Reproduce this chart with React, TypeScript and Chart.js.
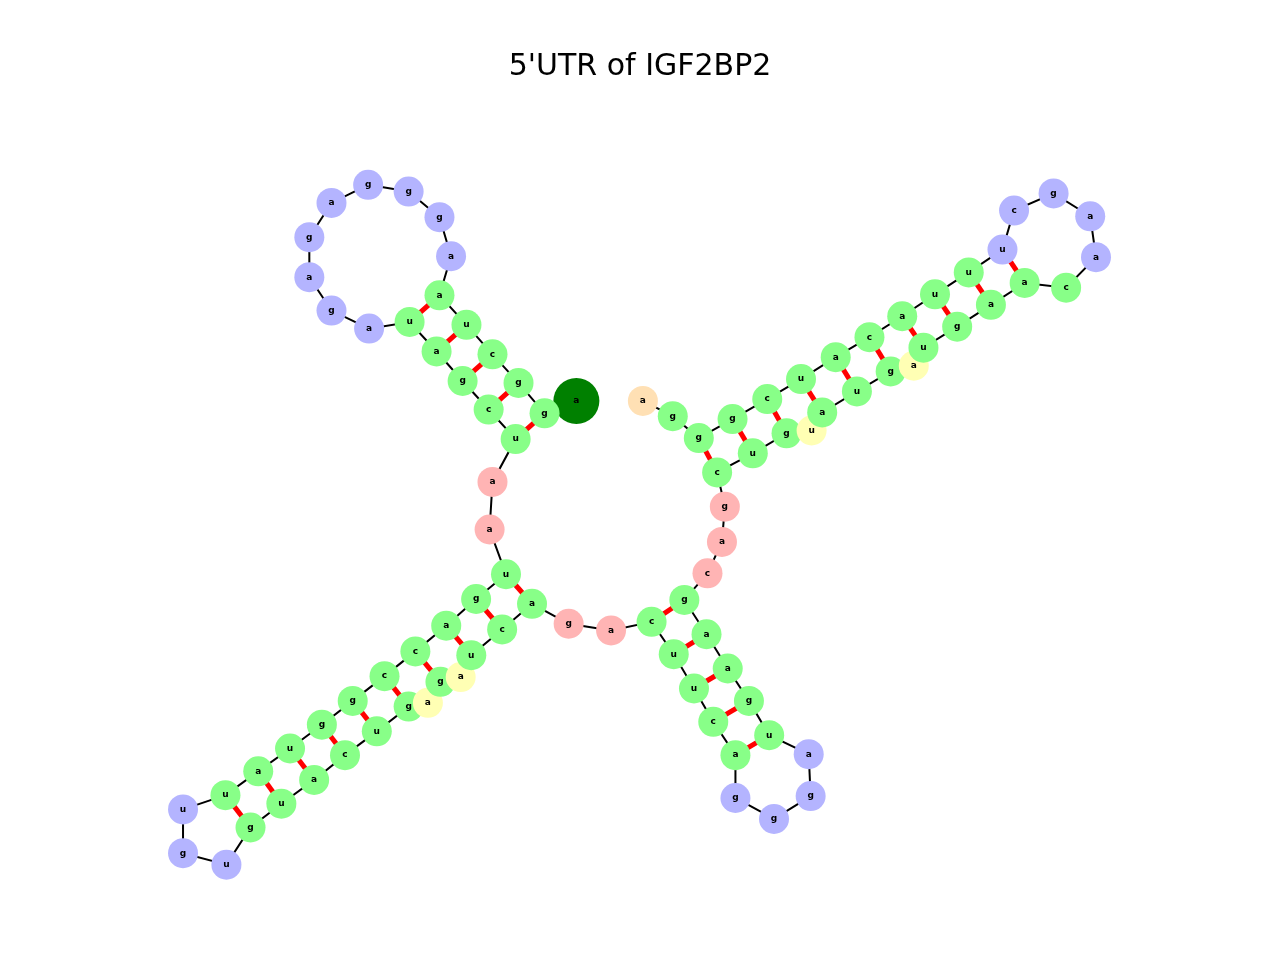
import React, { useEffect, useRef } from 'react';
import Chart from 'chart.js/auto';

// sequence in 5' -> 3' order, with layout coordinates
const bases = 'agUcuaaggggagagauagcuaauggaccgguauuugucuaucggauguagcuucgcaucuucgcgggcauuauaacacgucccuaaagcucaggga'.slice(0, 0);
const seq = [
  'a', 'g', 'g', 'c', 'u', 'a', 'a', 'g', 'g', 'g', 'a', 'g', 'a', 'g', 'a', 'u', 'a', 'g', 'c', 'u',
  'a', 'a', 'u', 'g', 'a', 'c', 'c', 'g', 'g', 'u', 'a', 'u', 'u', 'g', 'u', 'g', 'u', 'a', 'c', 'u',
  'g', 'a', 'g', 'a', 'u', 'c', 'a', 'g', 'a', 'c', 'u', 'u', 'c', 'a', 'g', 'g', 'g', 'a', 'u', 'g',
  'a', 'a', 'g', 'c', 'a', 'g', 'c', 'u', 'g', 'u', 'a', 'u', 'g', 'a', 'u', 'g', 'a', 'a', 'c', 'a',
  'a', 'g', 'c', 'u', 'u', 'u', 'a', 'c', 'a', 'u', 'c', 'g', 'g', 'g', 'a',
];
const xs = [
  574, 541, 514, 487, 460, 432, 444, 432, 400, 358, 320, 297, 297, 320, 359, 401, 429, 456, 483, 511,
  487, 484, 501, 470, 439, 407, 375, 342, 310, 277, 244, 210, 166, 166, 211, 236, 268, 302, 334, 367,
  400, 420, 433, 454, 465, 497, 528, 566, 610, 652, 675, 696, 716, 739, 739, 779, 817, 815, 774, 753,
  731, 709, 686, 710, 725, 728, 720, 757, 792, 818, 829, 865, 900, 924, 934, 969, 1004, 1039, 1082, 1113,
  1107, 1069, 1028, 1016, 981, 946, 912, 878, 843, 807, 772, 736, 701, 674, 643,
];
const ys = [
  397, 410, 378, 348, 317, 286, 245, 204, 177, 170, 189, 225, 267, 302, 321, 314, 345, 376, 406, 437,
  482, 532, 579, 605, 633, 660, 686, 712, 737, 762, 786, 811, 826, 872, 884, 845, 820, 795, 769, 744,
  718, 714, 692, 687, 664, 637, 610, 631, 638, 629, 663, 699, 734, 769, 814, 836, 812, 768, 748, 712,
  678, 642, 606, 578, 545, 508, 472, 452, 431, 428, 409, 387, 366, 360, 341, 319, 296, 273, 278, 246,
  203, 179, 197, 238, 262, 285, 308, 330, 351, 374, 395, 416, 436, 413, 397,
];
// structural element of each base: f=5' end, s=stem, h=hairpin, m=multiloop, i=interior, d=dangling, t=3' end
const kinds =
  'fsssss' + 'hhhhhhhhh' + 'sssss' + 'mm' + 'ssssssssss' + 'hhh' + 'ssssss' + 'isiss s'.replace(' ', '') +
  'mm' + 'sssss' + 'hhhh' + 'sssss' + 'mmm' + 'sss' + 'isssisssss' + 'hhhhh' + 'ssssssssss' + 'dt';
const pairs: [number, number][] = [
  [1, 19], [2, 18], [3, 17], [4, 16], [5, 15],
  [22, 46], [23, 45], [24, 44], [25, 42], [26, 40], [27, 39], [28, 38], [29, 37], [30, 36], [31, 35],
  [49, 62], [50, 61], [51, 60], [52, 59], [53, 58],
  [66, 92], [67, 91], [68, 90], [70, 89], [71, 88], [72, 87], [74, 86], [75, 85], [76, 84], [77, 83],
];

const colours: Record<string, string> = {
  f: '#008000', t: '#ff0000', s: '#88ff88', h: '#b4b4ff', m: '#ffb4b4', i: '#ffffb4', d: '#ffe0b4',
};

const App: React.FC = () => {
  const canvasRef = useRef<HTMLCanvasElement>(null);

  useEffect(() => {
    document.body.style.margin = '0';
    if (!canvasRef.current) return;
    const pts = seq.map((_, i) => ({ x: xs[i], y: ys[i] }));
    const kindAt = (i: number) => kinds[i] || 's';

    const labels = {
      id: 'labels',
      afterDatasetsDraw(chart: Chart) {
        const ctx = chart.ctx;
        const meta = chart.getDatasetMeta(0);
        ctx.save();
        ctx.fillStyle = '#000';
        ctx.font = 'bold 9px "DejaVu Sans"';
        ctx.textAlign = 'center';
        ctx.textBaseline = 'middle';
        meta.data.forEach((el: any, i: number) => ctx.fillText(seq[i], el.x, el.y));
        ctx.font = '30px "DejaVu Sans"';
        ctx.fillText("5'UTR of IGF2BP2", 640, 67);
        ctx.restore();
      },
    };

    const chart = new Chart(canvasRef.current, {
      type: 'scatter',
      data: {
        datasets: [
          {
            data: pts,
            pointRadius: seq.map((_, i) => (kindAt(i) === 'f' || kindAt(i) === 't' ? 23 : 15)),
            pointHoverRadius: seq.map((_, i) => (kindAt(i) === 'f' || kindAt(i) === 't' ? 23 : 15)),
            pointBackgroundColor: seq.map((_, i) => colours[kindAt(i)]),
            pointBorderWidth: 0,
          },
          ...pairs.map(([a, b]) => ({
            data: [pts[a], pts[b]],
            showLine: true,
            borderColor: '#ff0000',
            borderWidth: 5,
            pointRadius: 0,
          })),
          {
            data: pts,
            showLine: true,
            borderColor: '#000000',
            borderWidth: 2,
            pointRadius: 0,
          },
        ],
      },
      options: {
        animation: false,
        responsive: false,
        devicePixelRatio: 1,
        layout: { padding: 0 },
        plugins: { legend: { display: false }, tooltip: { enabled: false } },
        scales: {
          x: { type: 'linear', min: 0, max: 1280, display: false },
          y: { type: 'linear', min: 0, max: 960, reverse: true, display: false },
        },
      },
      plugins: [labels],
    });
    return () => chart.destroy();
  }, []);

  return <canvas ref={canvasRef} width={1280} height={960} />;
};

export default App;
